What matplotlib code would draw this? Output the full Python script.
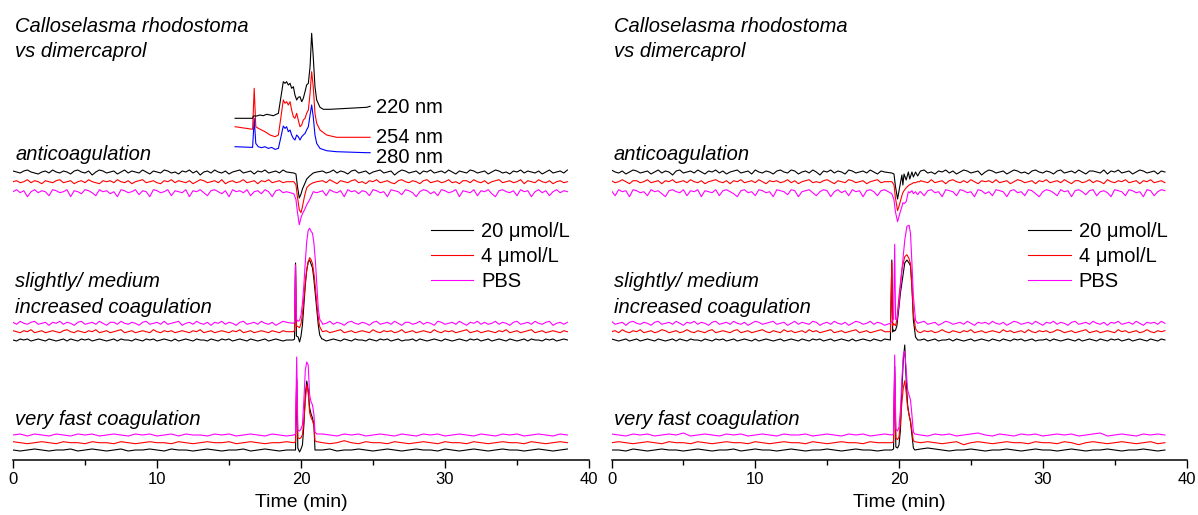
import numpy as np
import matplotlib
matplotlib.use("Agg")
import matplotlib.pyplot as plt

plt.rcParams['font.family'] = ['Liberation Sans', 'DejaVu Sans']

# ------------------------------------------------------------------ data
x_ticks = [0, 10, 20, 30, 40]
x_minor = [5, 15, 25, 35]
x_label = "Time (min)"
title_lines = ["Calloselasma rhodostoma", "vs dimercaprol"]
group_labels = [["anticoagulation"], ["slightly/ medium", "increased coagulation"], ["very fast coagulation"]]
series_names = ["20 \u03bcmol/L", "4 \u03bcmol/L", "PBS"]
uv_names = ["220 nm", "254 nm", "280 nm"]

# UV chromatograms (left panel only), signal in arbitrary units
uv220_t = [15.42, 16.64, 16.69, 16.92, 17.15, 17.38, 17.62, 17.85, 18.08, 18.43,
           18.61, 18.77, 18.89, 19.0, 19.12, 19.24, 19.35, 19.47, 19.58, 19.70,
           19.81, 19.93, 20.05, 20.16, 20.28, 20.39, 20.51, 20.63, 20.74, 20.85,
           20.97, 21.09, 21.32, 21.55, 22.01, 24.56, 24.8]
uv220_v = [0, 0, 2.3, 2.3, 3.3, 2.6, 4, 3.3, 2.6, 5,
           21.6, 36.6, 35, 36.6, 33.3, 35, 30, 31.6, 23.3, 18.3,
           21, 21.6, 16.6, 20, 26.6, 33.3, 35, 51.6, 85, 61.6,
           31.6, 18.3, 11, 9, 9, 11, 12]
uv254_t = [15.42, 16.64, 16.75, 16.86, 17.03, 17.26, 17.5, 17.85, 18.2, 18.43,
           18.61, 18.77, 18.89, 19.0, 19.12, 19.24, 19.35, 19.47, 19.58, 19.70,
           19.81, 19.93, 20.05, 20.16, 20.28, 20.39, 20.51, 20.63, 20.74, 20.85,
           20.97, 21.09, 21.32, 21.78, 22.47, 24.8]
uv254_v = [0, -2.6, 38.4, 0, -1.6, -3.3, -5, -8.3, -10, -8.3,
           10, 26.7, 23.4, 25, 21.7, 25, 16.7, 10, 8.4, 13.4,
           6.7, 0, 1.7, 6.7, 8.4, 13.4, 16.7, 33.4, 55, 40,
           13.4, 3.4, -3.3, -8.3, -10.6, -10.6]
uv280_t = [15.42, 16.64, 16.75, 16.86, 17.03, 17.26, 17.5, 17.73, 17.96, 18.2,
           18.43, 18.61, 18.77, 18.89, 19.0, 19.12, 19.24, 19.35, 19.47, 19.58,
           19.70, 19.81, 19.93, 20.05, 20.16, 20.28, 20.39, 20.51, 20.63, 20.74,
           20.85, 20.97, 21.09, 21.32, 21.78, 22.47, 24.56, 24.8]
uv280_v = [0, -0.7, 28.3, 3.3, 0, -1, 0, -1.7, -0.7, -2.7,
           -1.7, 10, 20.7, 18.3, 20, 15, 16.7, 11.7, 8.3, 6.7,
           11.7, 10, 6.7, 10, 11.7, 13.3, 16.7, 20, 31.7, 41.7,
           30, 11.7, 3.3, -1.7, -4, -5, -6, -6]

# baseline readings (anticoagulation & medium groups every 0.25 min, fast group every 0.5 min);
# readings up to 19.0 min come first, the rest start at 21.5 min
nz_L_ac_k = [1, 0, -1, 1, 2, 0, -1, -2, 0, 1, -1, 2,
             0, -1, 1, 0, -2, 1, 2, 0, -1, 1, -3, 0,
             2, 1, -1, 0, 1, -2, 0, 2, -1, 1, 0, -1,
             2, 0, -2, 1, 0, -1, 2, 1, -1, 0, -2, 1,
             0, 2, -1, 1, -3, 0, 1, -1, 2, 0, -1, 1,
             -2, 0, 1, 2, -1, 0, 1, -2, 1, 0, 2, -1,
             0, 1, -1, 2, 0,
             1, -1, 0, 2, -1, 1, 0, -2, 1, 2, -1, 0,
             1, -2, 0, 1, 2, -1, 0, 1, -3, 0, 2, 1,
             -1, 0, 1, -2, 1, 0, 2, -1, 0, 1, -1, 2,
             0, -2, 1, 0, -1, 2, 1, -1, 0, 1, -2, 0,
             2, 1, -1, 0, -2, 1, 0, 2, -1, 1, 0, -1,
             1, -2, 0, 2, -1, 0, 1, -1, 2]
nz_L_ac_r = [0, 1, -1, 0, 2, -1, 1, 0, -2, 1, 0, -1,
             1, 2, -1, 0, 1, -2, 0, 1, -1, 2, 0, -1,
             -2, 1, 0, 1, -1, 2, 0, -1, 1, -2, 0, 1,
             2, -1, 0, 1, -1, -2, 1, 0, 2, -1, 1, 0,
             -1, 1, -2, 0, 2, 1, -1, 0, 1, -1, 2, -2,
             0, 1, -1, 0, 2, -1, 0, 1, -2, 1, 0, 2,
             -1, 0, 1, -1, 0,
             1, -1, 2, 0, -2, 1, 0, -1, 1, 2, -1, 0,
             -2, 1, 0, 2, -1, 0, 1, -1, -2, 1, 2, 0,
             -1, 1, 0, -2, 1, 2, -1, 0, 1, -1, 0, 2,
             -1, 0, -2, 1, 1, -1, 2, 0, -1, 1, -2, 0,
             1, 2, -1, 0, 1, -1, 0, 2, -2, 1, 0, -1,
             2, 0, -1, 1, -2, 0, 1, -1, 0]
nz_L_ac_m = [0, 2, -1, 1, -5, 0, 2, -1, 1, 0, -4, 2,
             1, -1, 0, 2, -5, 1, 0, -2, 2, 1, -1, -4,
             2, 0, 1, -2, 0, -5, 2, 1, -1, 0, 2, -3,
             1, 0, -5, 2, 1, -1, 0, 2, -4, 1, 0, -1,
             2, -5, 1, 0, 2, -1, -4, 1, 2, 0, -2, 1,
             -5, 2, 0, 1, -1, 2, -4, 0, 1, -2, 2, 0,
             -5, 1, 2, -1, 0,
             1, -4, 2, 0, -1, 1, -5, 2, 0, 1, -2, 1,
             0, -4, 2, 1, -1, 0, -5, 2, 1, 0, -3, 2,
             1, -1, -5, 0, 2, 1, -2, 0, -4, 2, 1, -1,
             0, 2, -5, 1, 0, -1, 2, -4, 1, 0, 2, -2,
             -5, 1, 2, 0, -1, 1, -4, 2, 0, 1, -5, 0,
             2, -1, 1, -4, 0, 2, -1, 1, 0]
nz_L_sm_k = [0, -1, 1, 0, 1, -1, 0, 1, 0, -1, 1, 0,
             -1, 0, 1, -1, 1, 0, -1, 1, 0, 1, -1, 0,
             1, 0, -1, 0, 1, -1, 1, 0, 0, -1, 1, 0,
             -1, 1, 0, 1, -1, 0, 1, 0, -1, 1, -1, 0,
             1, 0, -1, 1, 0, 0, -1, 1, 0, -1, 1, 0,
             1, -1, 0, 1, 0, -1, 1, 0, -1, 0, 1, -1,
             0, 1, 0, -1, 0,
             1, -1, 0, 1, 0, -1, 1, 0, -1, 1, 0, 0,
             -1, 1, 0, -1, 1, 0, 1, -1, 0, 1, -1, 0,
             0, 1, -1, 1, 0, -1, 0, 1, 0, -1, 1, 0,
             -1, 0, 1, 0, -1, 1, 0, 1, -1, 0, 1, -1,
             0, 1, 0, -1, 1, 0, -1, 0, 1, -1, 1, 0,
             0, -1, 1, 0, 1, -1, 0, 1, 0]
nz_L_sm_r = [1, 0, -1, 1, 0, 2, -1, 0, 1, -1, 0, 1,
             0, -1, 1, 2, 0, -1, 1, 0, -1, 1, 0, 2,
             -1, 0, 1, -1, 0, 1, 2, -1, 0, 1, -1, 0,
             1, 0, -1, 2, 0, -1, 1, 0, 1, -1, 0, 1,
             0, -1, 1, 0, 2, -1, 0, 1, -1, 0, 1, 0,
             -1, 1, 0, 2, -1, 0, 1, -1, 0, 1, 0, -1,
             1, 0, -1, 1, 0,
             0, 1, -1, 0, 1, 2, -1, 0, 1, -1, 0, 1,
             0, -1, 2, 0, -1, 1, 0, 1, -1, 0, 2, -1,
             0, 1, -1, 0, 1, 0, -1, 2, 0, -1, 1, 0,
             1, -1, 0, 1, 2, -1, 0, 1, -1, 0, 1, 0,
             -1, 1, 0, 2, -1, 0, 1, -1, 0, 1, 2, -1,
             0, 1, -1, 0, 1, 0, -1, 1, 0]
nz_L_sm_m = [1, -1, 2, 0, -1, 1, 2, -1, 0, 1, -2, 1,
             0, 2, -1, 1, 0, -2, 1, 2, -1, 0, 1, -1,
             2, 0, -2, 1, 1, -1, 2, 0, -1, 1, 0, -2,
             1, 2, -1, 0, 1, -1, 2, -1, 0, 1, 2, -2,
             0, 1, -1, 2, 0, -1, 1, -2, 1, 0, 2, -1,
             1, 0, -2, 1, 2, -1, 0, 1, -1, 2, 0, -1,
             1, -2, 0, 2, 1,
             -1, 0, 2, -1, 1, 0, -2, 1, 2, 0, -1, 1,
             0, -2, 1, 2, -1, 0, 1, -1, 2, 0, -2, 1,
             1, -1, 0, 2, -1, 1, 0, -2, 2, 1, -1, 0,
             1, -1, 2, 0, -2, 1, 0, 2, -1, 1, -1, 0,
             2, -1, 1, 0, -2, 1, 2, -1, 0, 1, -1, 2,
             0, -1, 1, 2, -2, 0, 1, -1, 1]
nz_L_vf_k = [0, -1, 0, 1, 0, -1, 0, 0, 1, -1,
             0, 1, 0, -1, 0, 1, -1, 0, 0, 1,
             0, -1, 1, 0, 0, -1, 0, 1, 0, -1,
             0, 0, 1, -1, 0, 1, 0, -1, 0,
             0, 1, -1, 0, 0, 1, 0, -1, 0, 1,
             0, -1, 0, 1, 0, 0, -1, 1, 0, -1,
             0, 1, 0, -1, 0, 1, 0, 0, -1, 0,
             1, 0, -1, 0, 1]
nz_L_vf_r = [1, 0, -1, 0, 1, 0, -1, 1, 0, 0,
             -1, 1, 0, 0, -1, 1, 0, -1, 0, 1,
             0, 0, -1, 1, 0, -1, 0, 1, 0, 0,
             1, -1, 0, 1, 0, -1, 0, 0, 1,
             0, -1, 0, 2, 0, -1, 1, 0, 0, -1,
             1, 0, -1, 0, 1, 0, -1, 1, 0, 0,
             -1, 1, 0, -1, 0, 1, 0, 0, -1, 1,
             0, -1, 0, 1, 0]
nz_L_vf_m = [0, 1, -1, 1, 0, -1, 1, 0, -1, 1,
             0, 1, -1, 0, 1, 0, -1, 1, 0, 1,
             -1, 0, 1, -1, 1, 0, 0, -1, 1, 0,
             1, -1, 0, 1, 0, -1, 1, 0, -1,
             1, 0, -1, 1, 0, 1, -1, 0, 1, 0,
             -1, 1, 0, -1, 1, 0, 1, -1, 0, 1,
             0, -1, 1, 0, -1, 1, 0, 1, -1, 0,
             1, 0, -1, 1, 0]
nz_R_ac_k = [2, 0, -1, 1, -2, 0, 2, 1, -1, 0, 1, -2,
             0, 2, -1, 1, 0, -3, 1, 2, -1, 0, 1, -1,
             2, 0, -2, 1, 0, 2, -1, 1, -2, 0, 1, 2,
             -1, 0, 1, -2, 2, 0, -1, 1, 0, -2, 1, 2,
             0, -1, 2, 1, -2, 0, 1, -1, 2, 0, -3, 1,
             0, 2, -1, 1, 0, -2, 2, 1, -1, 0, 1, -1,
             2, 0, -2, 1, 0,
             1, 2, -1, 0, -2, 1, 0, 2, -1, 1, -2, 0,
             2, 1, -1, 0, 1, -3, 0, 2, 1, -1, 0, 1,
             -2, 0, 2, 1, -1, 0, -2, 1, 2, 0, -1, 1,
             0, -2, 1, 2, -1, 0, 1, -1, 2, 0, -2, 1,
             1, 0, -1, 2, -2, 1, 0, 2, -1, 0, 1, -2,
             0, 2, 1, -1, 0, 1, -2, 1, 0]
nz_R_ac_r = [1, -1, 0, 2, 0, -2, 1, 1, -1, 0, 2, -1,
             0, 1, -2, 1, 0, 2, -1, 0, 1, -1, 2, 0,
             -1, 1, -2, 0, 1, 2, 0, -1, 1, -2, 1, 0,
             2, -1, 0, 1, -1, 2, 0, -2, 1, 0, 1, -1,
             0, 2, -1, 1, -2, 0, 1, 2, -1, 0, -1, 1,
             2, 0, -2, 1, 0, -1, 2, 1, -1, 0, 1, -2,
             0, 1, 2, -1, 0,
             1, 0, -1, 2, -1, 0, 1, -2, 1, 2, 0, -1,
             1, -1, 2, 0, -2, 1, 0, 1, -1, 2, -1, 0,
             1, -2, 0, 2, 1, -1, 0, 1, -2, 1, 0, 2,
             -1, 0, 1, -1, 2, 0, -2, 1, 1, -1, 0, 2,
             -1, 1, 0, -2, 2, 0, -1, 1, 0, 2, -1, 0,
             1, -2, 1, 0, 2, -1, 0, 1, -1]
nz_R_ac_m = [1, -4, 2, 0, 1, -5, 2, 1, -1, 0, -4, 2,
             0, 1, -2, -5, 1, 2, 0, -1, 2, -4, 1, 0,
             2, -5, 1, 0, -1, 2, -4, 1, 2, 0, -2, -5,
             1, 2, -1, 0, -4, 2, 1, -1, 0, -5, 2, 1,
             0, -3, 2, 1, -5, 0, 1, 2, -1, -4, 0, 2,
             1, -5, 0, 2, -1, 1, -4, 2, 0, 1, -5, 1,
             2, 0, -4, 1, 2,
             0, -4, 1, 2, -1, 0, -5, 2, 1, 0, -4, 2,
             1, -1, 0, -5, 2, 1, -2, 0, -4, 2, 1, 0,
             -5, 1, 2, -1, 0, -4, 2, 1, -2, -5, 0, 2,
             1, -1, -4, 2, 0, 1, -5, 1, 2, 0, -3, 1,
             2, -4, 0, 1, -1, -5, 2, 1, 0, -4, 2, 1,
             -1, 0, -5, 2, 1, -4, 0, 2, 1]
nz_R_sm_k = [1, 0, -1, 0, 1, -1, 0, 1, -1, 0, 1, 0,
             -1, 1, 0, -1, 0, 1, -1, 1, 0, -1, 1, 0,
             0, -1, 1, 0, -1, 1, 0, 1, -1, 0, 1, -1,
             0, 1, 0, -1, 1, -1, 0, 1, 0, -1, 0, 1,
             -1, 0, 1, 0, -1, 1, 0, -1, 1, 0, 1, -1,
             0, 1, -1, 0, 1, 0, -1, 1, -1, 0, 1, 0,
             -1, 1, 0, -1, 1,
             0, 1, -1, 0, 1, -1, 0, 0, 1, -1, 1, 0,
             -1, 0, 1, -1, 0, 1, 0, -1, 1, 0, -1, 1,
             0, -1, 1, 0, 1, -1, 0, 1, -1, 0, 0, 1,
             -1, 1, 0, -1, 0, 1, 0, -1, 1, -1, 0, 1,
             0, -1, 1, 0, -1, 1, 0, 1, -1, 0, 1, -1,
             0, 1, 0, -1, 1, 0, -1, 1, 0]
nz_R_sm_r = [0, 1, -1, 2, 0, -1, 1, 0, 2, -1, 0, 1,
             -1, 0, 2, 1, -1, 0, 1, -1, 0, 2, 0, -1,
             1, 0, -1, 1, 2, -1, 0, 1, 0, -1, 1, 2,
             -1, 0, 1, -1, 0, 1, 2, 0, -1, 1, 0, -1,
             2, 0, 1, -1, 0, 1, -1, 2, 0, 1, -1, 0,
             1, 2, -1, 0, 1, -1, 0, 1, 2, -1, 0, 1,
             -1, 0, 1, 2, 0,
             -1, 1, 0, 1, -1, 0, 2, 0, -1, 1, 0, -1,
             1, 0, 2, -1, 0, 1, -1, 0, 1, 0, -1, 2,
             0, 1, -1, 0, 1, -1, 2, 0, -1, 1, 0, 1,
             -1, 0, 2, 1, -1, 0, 1, -1, 0, 1, 2, -1,
             0, 1, -1, 0, 1, 0, -1, 2, 0, 1, -1, 0,
             1, -1, 0, 2, 0, -1, 1, 0, 1]
nz_R_sm_m = [2, -1, 0, 1, -2, 1, 2, 0, -1, 1, 0, -2,
             1, 2, -1, 0, 1, -1, 2, 0, -2, 1, 0, 2,
             -1, 1, 0, -2, 1, 2, -1, 0, 1, -1, 2, 0,
             -1, 1, -2, 0, 2, 1, -1, 0, 1, 2, -1, 0,
             1, -2, 0, 2, -1, 1, 0, -1, 2, 1, -2, 0,
             1, -1, 2, 0, -1, 1, -2, 0, 2, 1, -1, 0,
             2, -1, 1, 0, -2,
             1, 2, -1, 0, 1, -2, 0, 2, 1, -1, 0, 1,
             -1, 2, 0, -2, 1, 0, 1, -1, 2, 0, -1, 1,
             -2, 0, 2, 1, -1, 0, 1, -1, 2, 0, -2, 1,
             0, 2, -1, 1, 0, -2, 1, 2, -1, 0, 1, -1,
             2, 0, -1, 1, -2, 1, 0, 2, -1, 0, 1, -1,
             2, 0, -2, 1, 0, 1, -1, 2, 0]
nz_R_vf_k = [0, 0, -1, 1, 0, -1, 0, 1, 0, 0,
             -1, 0, 1, 0, -1, 0, 0, 1, -1, 0,
             1, 0, 0, -1, 0, 1, 0, -1, 0, 0,
             1, 0, -1, 0, 1, 0, 0, -1, 0,
             1, 2, 1, 0, -1, 0, 0, 1, 0, -1,
             0, 0, 1, 0, -1, 0, 1, 0, 0, -1,
             0, 1, 0, -1, 0, 0, 1, 0, -1, 0,
             0, 1, 0, -1, 0]
nz_R_vf_r = [0, 1, 0, -1, 0, 1, 0, -1, 1, 0,
             0, -1, 1, 0, -1, 0, 1, 0, 0, -1,
             1, 0, -1, 0, 1, 0, 0, -1, 1, 0,
             -1, 0, 1, 0, 0, -1, 1, 0, 0,
             0, 1, 0, -1, 0, 1, -2, 0, 1, 0,
             -1, 0, 1, 0, 0, -1, 1, 0, 0, -1,
             1, 0, -2, 0, 1, 0, -1, 0, 1, 0,
             -1, 0, 1, -1, 0]
nz_R_vf_m = [1, 0, -1, 1, 0, 1, -1, 0, 1, 0,
             2, -1, 0, 1, 0, -1, 1, 0, 1, -1,
             0, 1, 0, -1, 1, 0, 0, 1, -1, 0,
             1, 0, -1, 1, 0, 1, -1, 0, 1,
             0, -1, 1, 0, 1, -1, 0, 1, 2, 0,
             -1, 1, 0, -1, 1, 0, 1, -1, 0, 1,
             0, 1, -1, 0, 1, 2, -1, 0, 1, 0,
             -1, 1, 0, 1, 0]

# peak / dip regions
pk_L_ac_t = [19.5, 19.65, 19.75, 19.88, 20.0, 20.1, 20.25, 20.4, 20.6, 20.85, 21.1]
pk_L_ac_k = [-1, -2, -14, -26, -22, -17, -12, -7, -4, -1, 0]
pk_L_ac_r = [0, -3, -15, -28, -31, -25, -14, -6, -3, -1, 0]
pk_L_ac_m = [-2, -8, -20, -33, -26, -22, -18, -13, -8, 0, -1]

pk_L_sm_t = [19.45, 19.55, 19.62, 19.68, 19.8, 19.9, 20.0, 20.1, 20.2, 20.3, 20.4,
             20.5, 20.6, 20.7, 20.8, 20.9, 21.0, 21.1, 21.2, 21.3, 21.45]
pk_L_sm_k = [0, 1, 77, 4, 3, -2, 4, 15, 35, 55, 70, 78, 80, 76, 72, 60, 45, 30, 15, 5, 1]
pk_L_sm_r = [0, 1, 67, 6, 5, 4, 8, 18, 33, 50, 62, 70, 74, 72, 68, 58, 44, 28, 14, 5, 1]
pk_L_sm_m = [0, 1, 58, 4, 2, 3, 8, 20, 38, 62, 82, 93, 95, 92, 90, 80, 62, 38, 15, 4, 1]

pk_L_vf_t = [19.5, 19.62, 19.7, 19.78, 19.9, 20.0, 20.1, 20.2, 20.3, 20.4, 20.5,
             20.6, 20.7, 20.8, 20.9, 20.97, 21.1]
pk_L_vf_k = [0, 0, 70, 2, -2, 1, 5, 25, 55, 69, 60, 42, 36, 32, 25, 0, 0]
pk_L_vf_r = [0, 1, 65, 5, 4, 5, 8, 22, 42, 58, 50, 30, 25, 22, 17, 2, 1]
pk_L_vf_m = [0, 1, 78, 5, 4, 6, 10, 35, 65, 73, 70, 40, 33, 30, 20, 3, 1]

pk_R_ac_t = [19.5, 19.65, 19.75, 19.9, 20.05, 20.2, 20.27, 20.35, 20.5, 20.65,
             20.75, 20.9, 21.0, 21.15, 21.3, 21.45]
pk_R_ac_k = [-1, -2, -14, -27, -15, -3, -13, -2, -8, 0, -7, 0, -5, 0, -4, 0]
pk_R_ac_r = [0, -3, -16, -29, -22, -14, -11, -9, -6, -4, -3, -2, -1, -1, 0, 0]
pk_R_ac_m = [-2, -8, -20, -30, -22, -15, -11, -12, -10, 0, -1, 1, -2, 0, -3, 0]

pk_R_sm_t = [19.4, 19.5, 19.56, 19.62, 19.7, 19.76, 19.85, 20.0, 20.1, 20.2, 20.4,
             20.55, 20.7, 20.8, 20.9, 21.0, 21.15, 21.3]
pk_R_sm_k = [0, 80, 8, 10, 9, 10, 14, 33, 47, 57, 77, 80, 77, 74, 53, 20, 3, 0]
pk_R_sm_r = [0, 69, 6, 8, 7, 6, 12, 35, 48, 62, 75, 77, 73, 68, 45, 18, 3, 0]
pk_R_sm_m = [0, 2, 3, 4, 79, 4, 3, 20, 37, 53, 83, 97, 98, 90, 60, 27, 3, 0]

pk_R_vf_t = [19.5, 19.62, 19.7, 19.78, 19.9, 20.0, 20.1, 20.2, 20.3, 20.4, 20.5,
             20.6, 20.7, 20.8, 20.9, 21.0, 21.1]
pk_R_vf_k = [0, 1, 84, 3, 2, 5, 20, 60, 90, 105, 70, 45, 35, 28, 15, 2, 0]
pk_R_vf_r = [0, 1, 70, 5, 3, 6, 20, 40, 55, 62, 50, 35, 28, 22, 12, 2, 1]
pk_R_vf_m = [0, 1, 80, 6, 4, 8, 25, 55, 80, 84, 65, 45, 40, 35, 20, 3, 1]

# ------------------------------------------------------------------ layout / style
colors = ["#000000", "#ff0000", "#ff00ff"]
uv_colors = ["#000000", "#ff0000", "#0000ff"]
offsets = {"ac": [288, 278.3, 268.3], "sm": [120, 128.3, 136.7], "vf": [10, 17.3, 25]}
uv_offsets = [341.7, 333.3, 313.3]
grid_steps = {"ac": 0.25, "sm": 0.25, "vf": 0.5}
pre_end = 19.0
post_start = 21.5

panels = {
    "L": {"ac": (nz_L_ac_k, nz_L_ac_r, nz_L_ac_m, pk_L_ac_t, pk_L_ac_k, pk_L_ac_r, pk_L_ac_m),
          "sm": (nz_L_sm_k, nz_L_sm_r, nz_L_sm_m, pk_L_sm_t, pk_L_sm_k, pk_L_sm_r, pk_L_sm_m),
          "vf": (nz_L_vf_k, nz_L_vf_r, nz_L_vf_m, pk_L_vf_t, pk_L_vf_k, pk_L_vf_r, pk_L_vf_m)},
    "R": {"ac": (nz_R_ac_k, nz_R_ac_r, nz_R_ac_m, pk_R_ac_t, pk_R_ac_k, pk_R_ac_r, pk_R_ac_m),
          "sm": (nz_R_sm_k, nz_R_sm_r, nz_R_sm_m, pk_R_sm_t, pk_R_sm_k, pk_R_sm_r, pk_R_sm_m),
          "vf": (nz_R_vf_k, nz_R_vf_r, nz_R_vf_m, pk_R_vf_t, pk_R_vf_k, pk_R_vf_r, pk_R_vf_m)},
}


def build(noise, pk_t, pk_v, step):
    n_pre = int(round(pre_end / step)) + 1
    pre = list(noise[:n_pre])
    post = list(noise[n_pre:])
    t_pre = np.arange(len(pre)) * step
    t_post = post_start + np.arange(len(post)) * step
    keep = t_post <= 38.6
    t = np.concatenate([t_pre, pk_t, t_post[keep]])
    v = np.concatenate([pre, pk_v, np.array(post)[keep]])
    return t, v


W, H = 1198, 515
fig = plt.figure(figsize=(W / 100, H / 100), dpi=100)
ax_rects = {"L": [13 / W, 55 / H, 576 / W, 460 / H],
            "R": [611.5 / W, 55 / H, 575 / W, 460 / H]}

label_font = 14.5
for key in ["L", "R"]:
    ax = fig.add_axes(ax_rects[key])
    handles = []
    for g in ["sm", "vf", "ac"]:
        nk, nr, nm, pt, pk, pr, pm = panels[key][g]
        for i, (nz, pv) in enumerate([(nk, pk), (nr, pr), (nm, pm)]):
            t, v = build(nz, pt, pv, grid_steps[g])
            ln, = ax.plot(t, v + offsets[g][i], color=colors[i], lw=0.8)
            if g == "sm":
                handles.append(ln)
    if key == "L":
        for tt, vv, off, c in [(uv280_t, uv280_v, uv_offsets[2], uv_colors[2]),
                               (uv254_t, uv254_v, uv_offsets[1], uv_colors[1]),
                               (uv220_t, uv220_v, uv_offsets[0], uv_colors[0])]:
            ax.plot(tt, np.array(vv) + off, color=c, lw=0.8)
        for name, yb in zip(uv_names, [347.3, 317.3, 296.7]):
            ax.text(25.2, yb, name, fontsize=label_font, va='baseline', ha='left')

    ax.set_xlim(0, 40)
    ax.set_ylim(0, 460)
    for s in ["left", "right", "top"]:
        ax.spines[s].set_visible(False)
    ax.spines["bottom"].set_linewidth(1.1)
    ax.set_yticks([])
    ax.set_xticks(x_ticks)
    ax.set_xticks(x_minor, minor=True)
    ax.tick_params(axis='x', which='major', direction='out', length=6, width=1.0,
                   labelsize=12, pad=3)
    ax.tick_params(axis='x', which='minor', direction='out', length=3.5, width=1.0)
    ax.set_xlabel(x_label, fontsize=14, labelpad=5)

    ax.text(0.15, 428.3, title_lines[0], fontsize=label_font, style='italic', va='baseline')
    ax.text(0.15, 403.3, title_lines[1], fontsize=label_font, style='italic', va='baseline')
    ax.text(0.15, 300, group_labels[0][0], fontsize=label_font, style='italic', va='baseline')
    ax.text(0.15, 172.7, group_labels[1][0], fontsize=label_font, style='italic', va='baseline')
    ax.text(0.15, 146.7, group_labels[1][1], fontsize=label_font, style='italic', va='baseline')
    ax.text(0.15, 35, group_labels[2][0], fontsize=label_font, style='italic', va='baseline')

    ax.legend(handles, series_names, loc='upper left', bbox_to_anchor=(29.0, 238),
              bbox_transform=ax.transData, frameon=False, fontsize=label_font,
              handlelength=2.1, handletextpad=0.4, labelspacing=0.3,
              borderpad=0, borderaxespad=0)

fig.savefig("out.png", dpi=100)
